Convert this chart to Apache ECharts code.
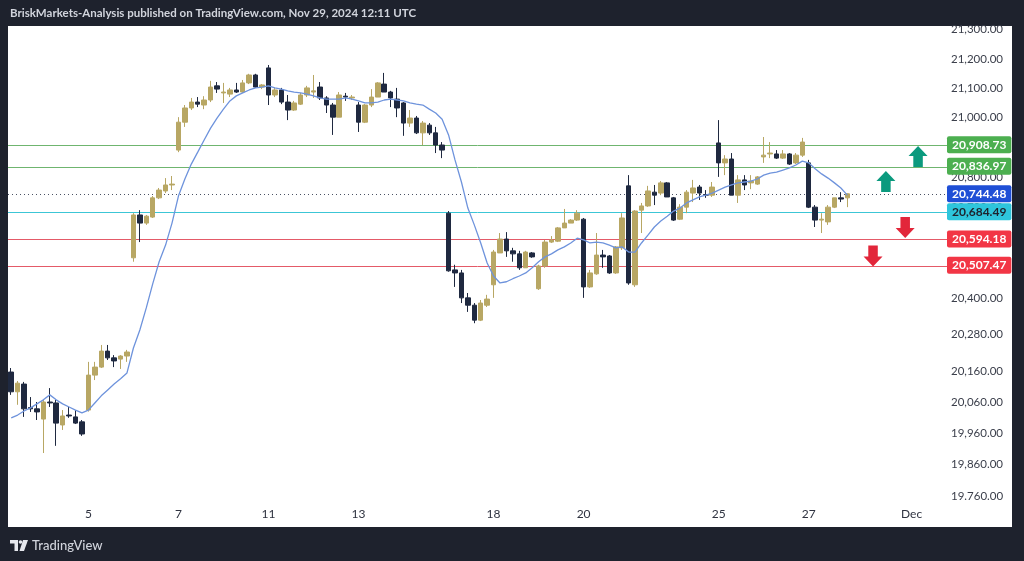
<!DOCTYPE html>
<html><head><meta charset="utf-8">
<script src="https://cdn.jsdelivr.net/npm/echarts@6/dist/echarts.min.js"></script>
<style>html,body{margin:0;padding:0;background:#1e222d;}#c{width:1024px;height:561px;}</style>
</head><body><div id="c"></div>
<script>
// ---- data ----
const opens = [20158,20094,20119,20043,20039,20006,20061,20058,19987,20019,20013,19997,20035,20148,20174,20226,20204,20200,20210,20532,
20674,20647,20667,20731,20754,20774,20891,20985,21033,21053,21043,21060,21108,21084,21080,21094,21087,21118,21145,21104,
21169,21077,21094,21053,21026,21046,21077,21087,21104,21067,21043,21002,21073,21067,21043,20985,21043,21070,21114,21087,
21063,21050,20982,20999,20949,20975,20949,20908,20680,20492,20482,20400,20376,20327,20376,20443,20548,20594,20555,20545,
20499,20548,20430,20505,20584,20587,20631,20647,20657,20660,20436,20479,20541,20538,20482,20565,20771,20443,20690,20704,
20750,20747,20781,20731,20660,20700,20747,20767,20742,20740,20915,20848,20861,20740,20791,20781,20777,20868,20878,20878,
20864,20878,20848,20874,20848,20700,20657,20651,20700,20731,20731];
const closes = [20094,20122,20039,20039,20029,20061,20058,19993,20016,20016,19993,19958,20148,20174,20226,20204,20194,20210,20223,20674,
20647,20670,20731,20757,20774,20777,20985,21033,21053,21046,21060,21104,21097,21087,21094,21087,21118,21145,21104,21111,
21077,21094,21053,21026,21050,21077,21101,21091,21067,21043,21002,21077,21070,21070,20985,21043,21070,21118,21087,21067,
21033,20982,20999,20949,20982,20949,20908,20891,20489,20482,20400,20376,20327,20383,20396,20551,20594,20555,20545,20499,
20551,20535,20505,20584,20591,20631,20647,20657,20680,20436,20482,20541,20535,20482,20568,20664,20449,20687,20704,20754,
20740,20781,20734,20657,20700,20750,20764,20747,20740,20767,20848,20861,20740,20791,20774,20787,20801,20874,20881,20864,
20878,20844,20874,20918,20700,20657,20660,20700,20731,20727,20744.48];
const lows = [20084,20052,20013,20029,20003,19897,20045,19920,19971,20010,19990,19952,20030,20132,20171,20197,20174,20168,20191,20519,
20584,20641,20664,20727,20747,20757,20884,20969,21026,21036,21029,21053,21084,21050,21070,21084,21084,21114,21101,21097,
21043,21070,21046,20992,21023,21043,21070,21067,21060,21016,20942,21002,21057,21060,20952,20982,21036,21070,21087,21036,
21002,20939,20969,20945,20908,20942,20881,20864,20486,20436,20383,20354,20317,20324,20370,20400,20548,20535,20519,20492,
20499,20532,20426,20499,20581,20584,20631,20647,20654,20400,20433,20476,20499,20479,20479,20558,20443,20436,20614,20701,
20707,20740,20734,20654,20657,20680,20717,20724,20731,20734,20801,20807,20740,20714,20757,20760,20774,20848,20864,20861,
20861,20841,20844,20868,20697,20634,20614,20641,20697,20717,20700];
const highs = [20171,20129,20126,20077,20061,20068,20106,20068,20035,20045,20035,20003,20191,20191,20246,20246,20213,20213,20230,20680,
20690,20674,20737,20764,20797,20804,21002,21043,21067,21070,21073,21125,21121,21118,21101,21118,21128,21149,21149,21114,
21179,21101,21101,21077,21057,21084,21108,21145,21121,21073,21050,21087,21084,21077,21053,21046,21097,21121,21152,21091,
21101,21053,21026,21006,20989,20982,20969,20918,20687,20509,20492,20416,20383,20393,20410,20558,20614,20617,20565,20555,
20555,20551,20509,20591,20604,20634,20694,20660,20690,20664,20492,20614,20558,20541,20571,20680,20807,20690,20714,20771,
20774,20787,20784,20734,20710,20757,20791,20774,20757,20784,20992,20874,20881,20807,20807,20807,20804,20935,20918,20891,
20891,20881,20881,20932,20858,20707,20680,20707,20731,20750,20746];
const maValues = [20010,20019,20032,20042,20055,20068,20084,20068,20055,20045,20035,20026,20035,20058,20081,20100,20119,20136,20155,20236,
20295,20367,20446,20519,20574,20647,20737,20794,20844,20884,20925,20965,20999,21029,21057,21074,21084,21094,21101,21104,
21108,21101,21097,21091,21087,21084,21080,21074,21067,21063,21063,21063,21067,21063,21057,21050,21050,21053,21060,21063,
21060,21057,21050,21046,21043,21029,21016,20995,20942,20858,20784,20697,20641,20581,20515,20472,20449,20453,20463,20472,
20482,20499,20519,20535,20545,20558,20568,20581,20597,20591,20581,20584,20581,20574,20565,20568,20551,20551,20581,20607,
20634,20654,20670,20687,20697,20714,20724,20734,20740,20747,20757,20767,20774,20781,20784,20787,20794,20807,20814,20817,
20824,20831,20841,20854,20848,20828,20811,20797,20781,20764,20740];
const slotCount = 146;
const tickIdx = [12, 26, 40, 54, 75, 89, 110, 124, 140];
const tickText = ['5', '7', '11', '13', '18', '20', '25', '27', 'Dec'];
const priceTicks = [19760, 19860, 19960, 20060, 20160, 20280, 20400, 20700, 20800, 21000, 21100, 21200, 21300];
const priceTickText = ['19.760.00', '19,860.00', '19,960.00', '20,060.00', '20,160.00', '20,280.00', '20,400.00', '20,700.00', '20,800.00', '21,000.00', '21,100.00', '21,200.00', '21,300.00'];
const levelValues = [20908.73, 20836.97, 20744.48, 20684.49, 20594.18, 20507.47];
const levelText = ['20,908.73', '20,836.97', '20,744.48', '20,684.49', '20,594.18', '20,507.47'];
const arrowsUp = [[141, 20869], [136, 20786]];
const arrowsDown = [[139, 20632], [134, 20538]];

// ---- build ----
const categories = [];
for (let i = 0; i < slotCount; i++) categories.push(String(i));
const candles = opens.map((o, i) => [o, closes[i], lows[i], highs[i]]);

const levelStyle = [
  {line: '#6fb56f', dash: null, bg: '#4caf50', fg: '#ffffff'},
  {line: '#6fb56f', dash: null, bg: '#4caf50', fg: '#ffffff'},
  {line: '#4a5163', dash: [1, 3], bg: '#1f4fd6', fg: '#ffffff'},
  {line: '#3cc6d6', dash: null, bg: '#2ec5dc', fg: '#1e222d'},
  {line: '#e45a68', dash: null, bg: '#f23645', fg: '#ffffff'},
  {line: '#e45a68', dash: null, bg: '#f23645', fg: '#ffffff'}
];
const markLineData = levelValues.map((v, i) => ({
  yAxis: v,
  lineStyle: {color: 'rgba(0,0,0,0)', width: 1},
  label: {
    show: true, position: 'end', distance: 0,
    formatter: levelText[i],
    backgroundColor: levelStyle[i].bg, color: levelStyle[i].fg,
    padding: [3, 5, 2, 5], borderRadius: 2,
    fontSize: 12, fontWeight: 'bold', fontFamily: 'Lato'
  }
}));
const upPath = 'path://M10,0 L20,10 L15,10 L15,21 L5,21 L5,10 L0,10 Z';
const downPath = 'path://M5,0 L15,0 L15,11 L20,11 L10,21 L0,11 L5,11 Z';
const markPointData = arrowsUp.map(c => ({coord: c, symbol: upPath, symbolSize: [19, 21], itemStyle: {color: '#0b9a7e'}}))
  .concat(arrowsDown.map(c => ({coord: c, symbol: downPath, symbolSize: [19, 21], itemStyle: {color: '#e2263a'}})));

const chart = echarts.init(document.getElementById('c'));
chart.setOption({
  animation: false,
  backgroundColor: '#1e222d',
  graphic: [
    {type: 'rect', z: -100, shape: {x: 8, y: 26, width: 1004, height: 501}, style: {fill: '#ffffff'}},
    {type: 'text', z: 10, x: 10, y: 13, style: {text: 'BriskMarkets-Analysis published on TradingView.com, Nov 29, 2024 12:11 UTC', fill: '#d1d4dc', font: 'bold 11.5px Lato', textVerticalAlign: 'middle'}},
    {type: 'polygon', z: 10, shape: {points: [[10, 540], [18, 540], [18, 551], [14.5, 551], [14.5, 543.5], [10, 543.5]]}, style: {fill: '#e6e8ee'}},
    {type: 'circle', z: 10, shape: {cx: 20.5, cy: 542, r: 1.8}, style: {fill: '#e6e8ee'}},
    {type: 'polygon', z: 10, shape: {points: [[23, 540], [28, 540], [24, 551], [19.5, 551]]}, style: {fill: '#e6e8ee'}},
    {type: 'text', z: 10, x: 32, y: 545.5, style: {text: 'TradingView', fill: '#d1d4dc', font: '500 13px Lato', textVerticalAlign: 'middle'}}
  ],
  grid: {left: 8, right: 77, top: 26, bottom: 59, containLabel: false},
  xAxis: {
    type: 'category', data: categories, boundaryGap: true,
    axisLine: {show: false}, axisTick: {show: false}, splitLine: {show: false},
    axisLabel: {
      interval: (idx) => tickIdx.indexOf(idx) >= 0,
      formatter: (val, idx) => tickText[tickIdx.indexOf(idx)] || '',
      color: '#2f3340', fontSize: 12, fontFamily: 'Lato', margin: 6
    }
  },
  yAxis: {
    type: 'log', logBase: 10, position: 'right', min: 19740.8, max: 21312.3,
    axisLine: {show: false}, axisTick: {show: false}, splitLine: {show: false},
    axisLabel: {
      customValues: priceTicks,
      formatter: (v) => {
        let best = 0;
        for (let i = 0; i < priceTicks.length; i++) if (Math.abs(priceTicks[i] - v) < Math.abs(priceTicks[best] - v)) best = i;
        return priceTickText[best];
      },
      color: '#3a3e4a', fontSize: 11.5, fontFamily: 'Lato', margin: 4
    }
  },
  series: [
    {
      // horizontal level lines, snapped to whole pixels so they stay crisp
      type: 'custom', silent: true, clip: false, z: 1,
      data: levelValues.map((v, i) => [i, v]),
      encode: {x: 0, y: 1},
      renderItem: (params, api) => {
        const i = params.dataIndex;
        const y = Math.round(api.coord([0, api.value(1)])[1] + 0.4) + 0.5;
        const cs = params.coordSys;
        return {
          type: 'line', silent: true,
          shape: {x1: cs.x, y1: y, x2: cs.x + cs.width, y2: y},
          style: {stroke: levelStyle[i].line, lineWidth: 1, lineDash: levelStyle[i].dash}
        };
      }
    },
    {
      type: 'candlestick', data: candles, barWidth: 5, z: 2,
      itemStyle: {color: '#b8a764', color0: '#1f2940', borderColor: '#b8a764', borderColor0: '#1f2940', borderWidth: 1},
      emphasis: {disabled: true},
      markLine: {silent: true, symbol: ['none', 'none'], data: markLineData, animation: false, emphasis: {disabled: true}},
      markPoint: {silent: true, data: markPointData, label: {show: false}, animation: false}
    },
    {
      type: 'line', data: maValues, showSymbol: false, symbol: 'none',
      lineStyle: {color: '#6e93dc', width: 1.3}, z: 3
    }
  ]
});
</script></body></html>
